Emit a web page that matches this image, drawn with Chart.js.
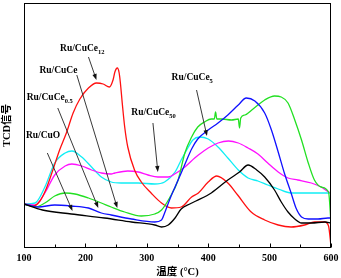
<!DOCTYPE html>
<html><head><meta charset="utf-8">
<script src="https://cdn.jsdelivr.net/npm/chart.js@4"></script>
<style>html,body{margin:0;padding:0;background:#fff}canvas{display:block}</style>
</head><body>
<canvas id="c" width="341" height="278"></canvas>
<script>
// ---- axis text ----
const xTickValues = [100, 200, 300, 400, 500, 600];
const xTickLabels = ['100', '200', '300', '400', '500', '600'];
const xMinorTicks = [150, 250, 350, 450, 550];
const xTitle = '温度 (°C)';
const yTitle = 'TCD信号';

// ---- series (temperature °C, TCD signal, arbitrary units) ----
const tempCuO = [100,130,177,231,275,313,324,335,346,356,370,380,405,432,451,465,479,492,508,519,530,541,552,568,590,600];
const sigCuO  = [44,38,34,30,26,23,21,23,30,39,44,47,55,68,76,83,78,71,58,46,36,29,25,25,26,25];

const tempCuCe05 = [100,123,150,177,205,226,242,275,313,324,329,337,346,356,365,373,383,400,416,432,449,462,476,492,503,514,524,535,543,552,563,579,595,600];
const sigCuCe05  = [44,41,43,42,40,35,33,29,26,28,35,48,61,75,88,99,109,118,125,133,143,150,147,135,118,96,75,55,40,31,29,29,30,30];

const tempCuCe = [100,118,134,150,167,183,205,226,242,264,291,313,324,337,351,362,373,383,394,405,410,412,414,422,438,449,451,453,460,471,481,492,508,519,530,541,552,563,573,584,596,600];
const sigCuCe  = [44,41,45,52,55,54,50,45,41,36,32,34,38,50,68,95,111,121,126,129,129,136,129,129,128,129,120,130,133,138,143,148,152,151,145,128,108,85,68,61,56,25];

const tempCuCe12 = [100,115,126,136,147,158,169,180,191,205,218,229,239,245,248,252,255,257,260,264,269,280,291,307,324,340,356,373,384,400,414,432,448,470,492,514,535,557,573,590,596,600];
const sigCuCe12  = [44,42,47,59,78,98,115,135,149,160,165,164,161,168,176,180,175,165,145,121,101,78,66,55,45,40,41,51,55,66,72,65,53,36,28,23,21,23,26,26,22,2];

const tempCuCe50 = [100,118,134,150,167,178,194,210,226,242,248,269,286,302,318,335,348,362,378,384,400,416,433,449,465,481,497,514,530,546,568,584,596,600];
const sigCuCe50  = [44,43,55,73,82,84,82,78,75,74,75,77,76,73,71,71,75,81,90,93,100,105,107,105,100,94,85,76,70,68,65,61,56,55];

const tempCuCe5 = [100,118,134,150,167,178,194,210,226,242,258,286,313,329,346,356,365,375,386,400,416,432,449,465,481,497,514,535,563,596,600];
const sigCuCe5  = [44,45,61,85,95,97,91,81,71,66,65,65,64,66,76,88,98,108,111,109,101,90,78,70,67,63,59,55,55,55,55];

const seriesNames  = ['Ru/CuO', 'Ru/CuCe0.5', 'Ru/CuCe', 'Ru/CuCe12', 'Ru/CuCe50', 'Ru/CuCe5'];
const seriesTemps  = [tempCuO, tempCuCe05, tempCuCe, tempCuCe12, tempCuCe50, tempCuCe5];
const seriesSigs   = [sigCuO, sigCuCe05, sigCuCe, sigCuCe12, sigCuCe50, sigCuCe5];
const seriesColors = ['#000000', '#1010ff', '#22e022', '#ff1010', '#ff10ff', '#10eef5'];

// label annotations (data units): base text, subscript, label centre, arrow tail, arrow head
const annotations = [
  {base:'Ru/CuCe', sub:'12',  tx:195, ty:199, ax1:205, ay1:191, ax2:218, ay2:168},
  {base:'Ru/CuCe', sub:'',    tx:156, ty:177, ax1:186, ay1:173, ax2:252, ay2:40},
  {base:'Ru/CuCe', sub:'0.5', tx:142, ty:150, ax1:155, ay1:140, ax2:221, ay2:40},
  {base:'Ru/CuO',  sub:'',    tx:131, ty:112, ax1:138, ay1:95,  ax2:179, ay2:37},
  {base:'Ru/CuCe', sub:'50',  tx:311, ty:135, ax1:310, ay1:125, ax2:318, ay2:76},
  {base:'Ru/CuCe', sub:'5',   tx:374, ty:170, ax1:381, ay1:158, ax2:398, ay2:112}
];

const datasets = seriesNames.map((n, i) => ({
  label: n,
  data: seriesTemps[i].map((t, j) => ({x: t, y: seriesSigs[i][j]})),
  borderColor: seriesColors[i],
  borderWidth: 1.3,
  pointRadius: 0,
  fill: false,
  cubicInterpolationMode: 'monotone'
}));

const SERIF = "'Liberation Serif','Noto Sans CJK SC',serif";

const decor = {
  id: 'decor',
  afterDraw(chart) {
    const {ctx, chartArea: a, scales: {x, y}} = chart;
    ctx.save();
    // frame
    ctx.strokeStyle = '#000';
    ctx.lineWidth = 1;
    ctx.strokeRect(Math.round(a.left) + 0.5, Math.round(a.top) + 0.5,
                   Math.round(a.right - a.left) - 1, Math.round(a.bottom - a.top) - 1);
    // ticks (inward)
    const yb = Math.round(a.bottom) - 0.5;
    ctx.beginPath();
    xTickValues.forEach(v => { const px = Math.round(x.getPixelForValue(v)) + 0.5; ctx.moveTo(px, yb); ctx.lineTo(px, yb - 4); });
    xMinorTicks.forEach(v => { const px = Math.round(x.getPixelForValue(v)) + 0.5; ctx.moveTo(px, yb); ctx.lineTo(px, yb - 3); });
    ctx.stroke();
    // tick labels
    ctx.fillStyle = '#000';
    ctx.font = 'bold 10px ' + SERIF;
    ctx.textAlign = 'center';
    ctx.textBaseline = 'middle';
    xTickValues.forEach((v, i) => ctx.fillText(xTickLabels[i], x.getPixelForValue(v), a.bottom + 10));
    // axis titles
    ctx.font = 'bold 10.5px ' + SERIF;
    ctx.fillText(xTitle, (a.left + a.right) / 2, a.bottom + 24);
    ctx.save();
    ctx.translate(7, (a.top + a.bottom) / 2);
    ctx.rotate(-Math.PI / 2);
    ctx.fillText(yTitle, 0, 0);
    ctx.restore();
    // annotations
    annotations.forEach(an => {
      const cx = x.getPixelForValue(an.tx), cy = y.getPixelForValue(an.ty);
      ctx.font = 'bold 9.5px ' + SERIF;
      const wb = ctx.measureText(an.base).width;
      ctx.font = 'bold 6.5px ' + SERIF;
      const ws = an.sub ? ctx.measureText(an.sub).width : 0;
      const left = cx - (wb + ws) / 2;
      ctx.textAlign = 'left';
      ctx.textBaseline = 'middle';
      ctx.font = 'bold 9.5px ' + SERIF;
      ctx.fillText(an.base, left, cy);
      if (an.sub) { ctx.font = 'bold 6.5px ' + SERIF; ctx.fillText(an.sub, left + wb, cy + 3); }
      // arrow
      const x1 = x.getPixelForValue(an.ax1), y1 = y.getPixelForValue(an.ay1);
      const x2 = x.getPixelForValue(an.ax2), y2 = y.getPixelForValue(an.ay2);
      const ang = Math.atan2(y2 - y1, x2 - x1);
      const L = 6, W = 2.2;
      ctx.strokeStyle = '#222';
      ctx.lineWidth = 0.9;
      ctx.beginPath();
      ctx.moveTo(x1, y1);
      ctx.lineTo(x2 - L * 0.8 * Math.cos(ang), y2 - L * 0.8 * Math.sin(ang));
      ctx.stroke();
      ctx.fillStyle = '#111';
      ctx.beginPath();
      ctx.moveTo(x2, y2);
      ctx.lineTo(x2 - L * Math.cos(ang) + W * Math.sin(ang), y2 - L * Math.sin(ang) - W * Math.cos(ang));
      ctx.lineTo(x2 - L * Math.cos(ang) - W * Math.sin(ang), y2 - L * Math.sin(ang) + W * Math.cos(ang));
      ctx.closePath();
      ctx.fill();
      ctx.fillStyle = '#000';
    });
    ctx.restore();
  }
};

new Chart(document.getElementById('c'), {
  type: 'line',
  data: {datasets},
  options: {
    responsive: false,
    animation: false,
    parsing: true,
    layout: {padding: {left: 24, right: 10, top: 3, bottom: 30}},
    plugins: {legend: {display: false}, tooltip: {enabled: false}},
    scales: {
      x: {type: 'linear', min: 100, max: 600, display: false},
      y: {type: 'linear', min: 0, max: 245, display: false}
    }
  },
  plugins: [decor]
});
</script>
</body></html>
